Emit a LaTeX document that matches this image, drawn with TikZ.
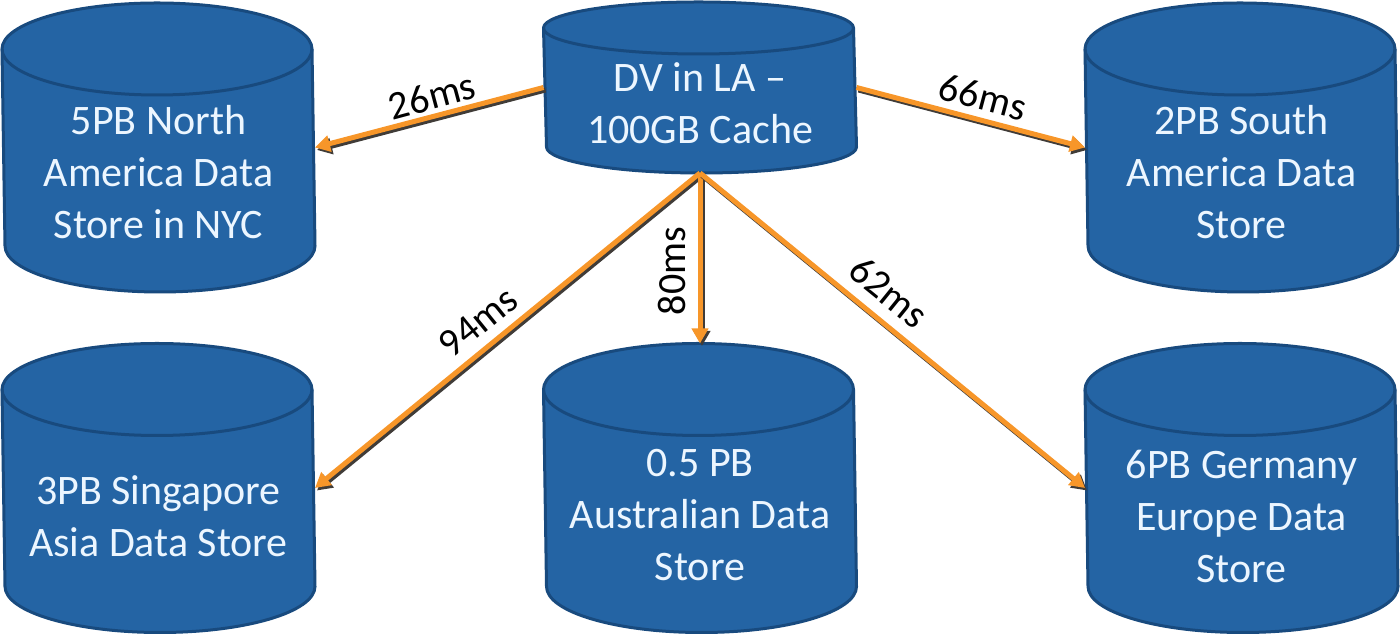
\documentclass[tikz,border=0pt]{standalone}
\usepackage{fontspec}
\setmainfont{Carlito}
\usetikzlibrary{arrows.meta}

\definecolor{storeblue}{RGB}{36,100,164}
\definecolor{storeline}{RGB}{24,74,126}
\definecolor{storetextc}{RGB}{236,246,255}
\definecolor{linkorange}{RGB}{247,150,41}
\definecolor{linkshade}{RGB}{64,60,56}

% can: node name, x radius, y radius of the end ellipses
\newcommand{\can}[3]{%
  \filldraw[storepaint] ([yshift=-#3pt]#1.north west) arc[start angle=180, end angle=0, x radius=#2pt, y radius=#3pt]
    -- ([yshift=#3pt]#1.south east) arc[start angle=0, end angle=-180, x radius=#2pt, y radius=#3pt] -- cycle;
  \draw[storepaint, fill=none] ([yshift=-#3pt]#1.north west) arc[start angle=180, end angle=360, x radius=#2pt, y radius=#3pt];
}

\begin{document}
\begin{tikzpicture}[x=1pt, y=1pt,
		storebox/.style={rectangle, minimum width=310pt, minimum height=286pt, inner sep=0pt, outer sep=1.5pt},
		storepaint/.style={draw=storeline, line width=3pt, fill=storeblue},
		storetext/.style={text=storetextc, font=\fontsize{42}{52}\selectfont, align=center},
		delay/.style={font=\fontsize{40}{48}\selectfont, text=black},
		link/.style={draw=linkorange, line width=5pt, -{Triangle[length=15pt, width=16pt]}},
		linkshadow/.style={link, draw=linkshade, fill=linkshade, transform canvas={xshift=2pt, yshift=-2.5pt}},
]
\useasboundingbox (0,0) rectangle (1400,636);

\node[storebox, minimum height=168pt] (la) at (700,548.5) {};
\node[storebox] (nyc) at (158.5,488.5) {};
\node[storebox] (sa) at (1241.5,488.5) {};
\node[storebox] (sg) at (158.5,148) {};
\node[storebox] (au) at (700,148) {};
\node[storebox] (eu) at (1241.5,148) {};

\can{la}{155}{26}
\can{nyc}{155}{46}
\can{sa}{155}{46}
\can{sg}{155}{46}
\can{au}{155}{46}
\can{eu}{155}{46}

\foreach \from/\to in {la.west/nyc.east, la.east/sa.west, la.south/sg.east, la.south/au.north, la.south/eu.west}{
  \draw [linkshadow] (\from) -- (\to);
  \draw [link] (\from) -- (\to);
}

\node[storetext] (lat) at (700,533) {DV in LA \textendash\\100GB Cache};
\node[storetext] (nyct) at (158.5,464) {5PB North\\America Data\\Store in NYC};
\node[storetext] (sat) at (1241.5,464) {2PB South\\America Data\\Store};
\node[storetext] (sgt) at (158.5,120) {3PB Singapore\\Asia Data Store};
\node[storetext] (aut) at (700,121) {0.5 PB\\Australian Data\\Store};
\node[storetext] (eut) at (1241.5,120) {6PB Germany\\Europe Data\\Store};

\node[delay, rotate=15] (d26) at (432,540) {26ms};
\node[delay, rotate=-15] (d66) at (983,539) {66ms};
\node[delay, rotate=39] (d94) at (478,314) {94ms};
\node[delay, rotate=90] (d80) at (672,365) {80ms};
\node[delay, rotate=-39] (d62) at (889,344) {62ms};

\end{tikzpicture}
\end{document}
